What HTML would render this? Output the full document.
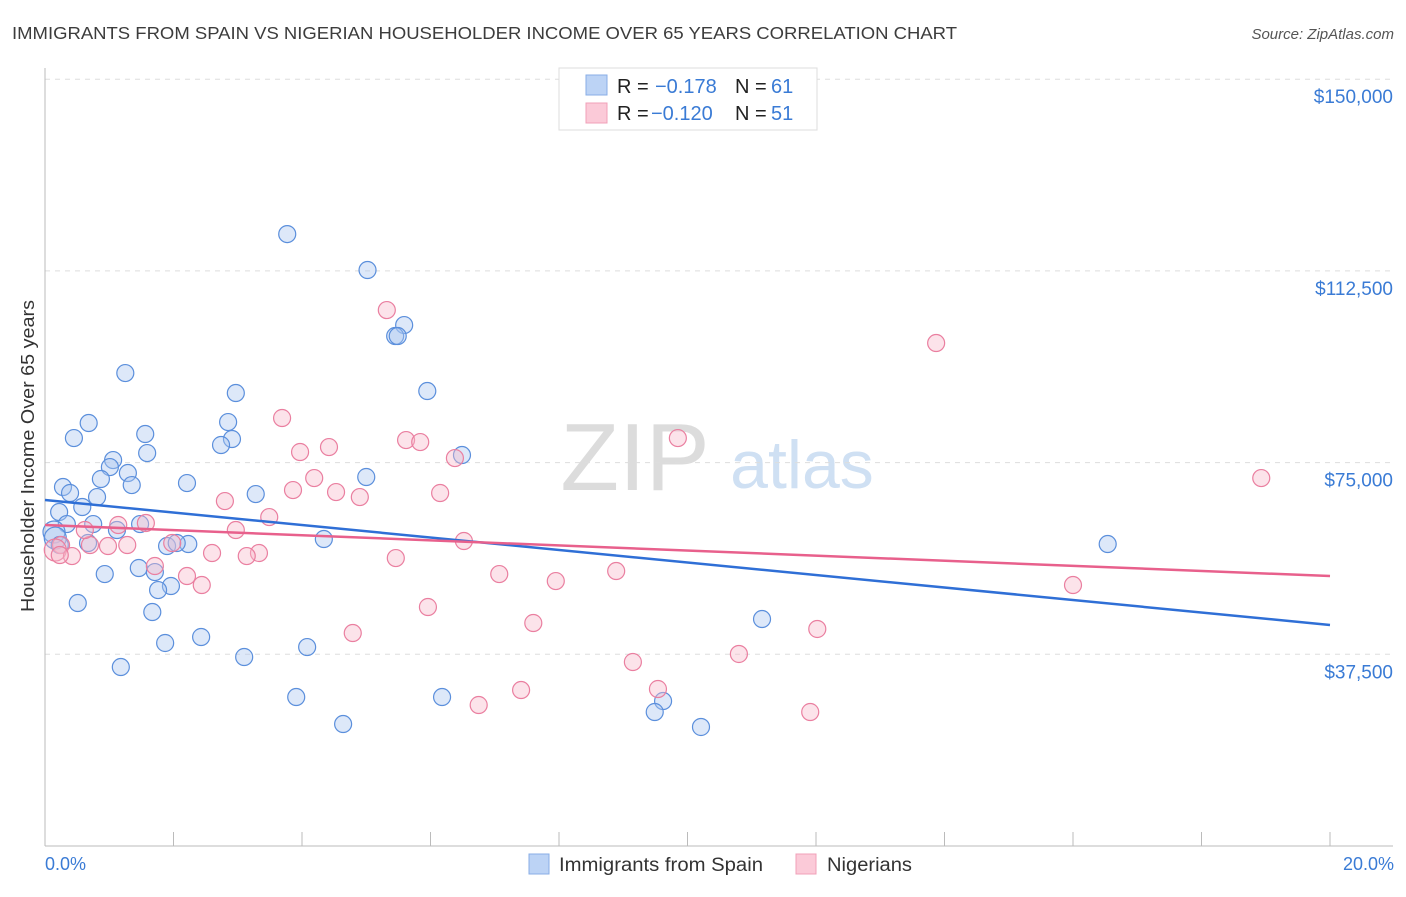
<!DOCTYPE html>
<html><head><meta charset="utf-8"><style>
body{margin:0;background:#fff;font-family:"Liberation Sans",sans-serif;}
svg text{font-family:"Liberation Sans",sans-serif;}
</style></head><body>
<svg id="chart" width="1406" height="892" xmlns="http://www.w3.org/2000/svg">
<text x="12" y="39" font-size="17.5" fill="#3c3c3c" textLength="945" lengthAdjust="spacingAndGlyphs">IMMIGRANTS FROM SPAIN VS NIGERIAN HOUSEHOLDER INCOME OVER 65 YEARS CORRELATION CHART</text>
<text x="1394" y="39" font-size="15" fill="#555" font-style="italic" text-anchor="end">Source: ZipAtlas.com</text>
<g>
<text x="635" y="490" font-size="96" fill="#dcdcdc" font-family="Liberation Serif" text-anchor="middle">ZIP</text>
<text x="802" y="488" font-size="68" fill="#cfe0f3" text-anchor="middle">atlas</text>
</g>
<g id="grid"></g>
<g id="axes"></g>
<g id="pts"></g>
<g id="trend"></g>
<text transform="translate(34,456) rotate(-90)" font-size="18" fill="#333" text-anchor="middle" textLength="312" lengthAdjust="spacingAndGlyphs">Householder Income Over 65 years</text>
<text x="45" y="870" font-size="18" fill="#3a7bd5">0.0%</text>
<text x="1394" y="870" font-size="18" fill="#3a7bd5" text-anchor="end">20.0%</text>
<g>
<rect x="559" y="68" width="258" height="62" fill="#fff" stroke="#ddd"/>
<rect x="586" y="75" width="21" height="20" fill="#bcd3f5" stroke="#88aee6"/>
<rect x="586" y="103" width="21" height="20" fill="#fbcad8" stroke="#f0a0b8"/>
<text x="617" y="93" font-size="20" fill="#222">R = <tspan x="655" fill="#3a7bd5">&#8722;0.178</tspan><tspan x="735">N = </tspan><tspan x="771" fill="#3a7bd5">61</tspan></text>
<text x="617" y="120" font-size="20" fill="#222">R = <tspan x="651" fill="#3a7bd5">&#8722;0.120</tspan><tspan x="735">N = </tspan><tspan x="771" fill="#3a7bd5">51</tspan></text>
</g>
<g>
<rect x="529" y="854" width="20" height="20" fill="#bcd3f5" stroke="#88aee6"/>
<text x="559" y="871" font-size="19" fill="#333" textLength="204" lengthAdjust="spacingAndGlyphs">Immigrants from Spain</text>
<rect x="796" y="854" width="20" height="20" fill="#fbcad8" stroke="#f0a0b8"/>
<text x="827" y="871" font-size="19" fill="#333" textLength="85" lengthAdjust="spacingAndGlyphs">Nigerians</text>
</g>
</svg>
<script>
const yTicks=[37500,75000,112500,150000];
const yTickLabels=["$37,500","$75,000","$112,500","$150,000"];
const xTicks=[0,2,4,6,8,10,12,14,16,18,20];
const spainX=[3.77,5.02,5.59,5.45,5.49,1.25,2.97,5.95,0.68,2.85,0.45,1.56,2.91,2.74,1.59,6.49,1.06,1.01,1.29,0.87,5.00,0.28,2.21,0.39,1.35,0.81,3.28,0.58,0.22,0.34,0.75,1.48,0.14,1.12,4.34,0.67,1.90,2.23,2.05,16.54,1.46,0.93,1.71,1.96,1.76,0.51,1.67,11.16,2.43,1.87,4.08,3.10,1.18,3.91,6.18,9.62,9.49,4.64,10.21,0.16,0.23];
const spainY=[119700,112670,101900,99760,99760,92520,88610,89000,82740,82930,79800,80590,79610,78440,76870,76480,75500,74130,72960,71790,72180,70220,71000,69050,70610,68260,68850,66310,65330,62980,62980,62980,61420,61810,60050,59270,58680,59070,59270,59070,54380,53200,53590,50860,50070,47530,45770,44400,40880,39710,38920,36970,35010,29140,29140,28360,26210,23860,23280,60240,58880];
const nigX=[5.32,13.87,3.69,5.62,5.84,9.85,3.97,4.42,6.38,18.93,4.19,3.86,4.53,6.15,4.90,2.80,3.49,1.57,1.14,2.97,1.98,6.52,0.70,0.98,1.28,0.25,0.16,0.42,2.60,3.33,3.14,5.46,1.71,8.89,2.21,7.07,7.95,2.44,16.00,5.96,7.60,12.02,4.79,9.15,10.80,9.54,7.41,6.75,11.91,0.62,0.23];
const nigY=[104840,98390,83720,79410,79020,79800,77070,78040,75890,71980,71980,69630,69240,69050,68260,67480,64350,63180,62790,61810,59270,59660,58880,58680,58880,58880,57900,56720,57310,57310,56720,56330,54770,53790,52810,53200,51830,51050,51050,46750,43620,42450,41660,35990,37560,30710,30510,27580,26210,61810,56920];
const spainTrend=[67680,43230];
const nigTrend=[62790,52810];
const NS='http://www.w3.org/2000/svg';
const X=v=>45+v/20*1285;
const Y=v=>846-v/37500*191.7;
function mk(tag,attrs,parent){const e=document.createElementNS(NS,tag);for(const k in attrs)e.setAttribute(k,attrs[k]);parent.appendChild(e);return e;}
const grid=document.getElementById('grid');
yTicks.forEach((t,i)=>{
 const l=mk('line',{x1:45,x2:1393,y1:Y(t),y2:Y(t),stroke:'#ddd','stroke-dasharray':'5,5'},grid);
 
 
 const tx=mk('text',{x:1393,y:Y(t)+24,'font-size':19,fill:'#3a7bd5','text-anchor':'end'},grid);
 tx.textContent=yTickLabels[i];
 
 
});
const axes=document.getElementById('axes');
const xa=mk('line',{x1:45,x2:1393,y1:846,y2:846,stroke:'#bbb'},axes);


const ya=mk('line',{x1:45,x2:45,y1:68,y2:846,stroke:'#bbb'},axes);


xTicks.forEach(t=>{if(t===0)return;
 const l=mk('line',{x1:X(t),x2:X(t),y1:832,y2:846,stroke:'#bbb'},axes);
 
 
});
const pts=document.getElementById('pts');
function plot(xs,ys,fill,stroke,name){
 xs.forEach((x,i)=>{
  const r=(x<0.2)?11:8.5;
  const c=mk('circle',{cx:X(x),cy:Y(ys[i]),r:r,fill:fill,'fill-opacity':0.4,stroke:stroke,'stroke-width':1.2},pts);
  
  
 });
}
plot(spainX,spainY,'#a9c6f0','#5b8fdc','spain-point');
plot(nigX,nigY,'#f8b8cb','#ea7fa0','nigerian-point');
const tr=document.getElementById('trend');
const t1=mk('line',{x1:X(0),y1:Y(spainTrend[0]),x2:X(20),y2:Y(spainTrend[1]),stroke:'#2f6fd6','stroke-width':2.5},tr);


const t2=mk('line',{x1:X(0),y1:Y(nigTrend[0]),x2:X(20),y2:Y(nigTrend[1]),stroke:'#e8608c','stroke-width':2.5},tr);


</script>
</body></html>
